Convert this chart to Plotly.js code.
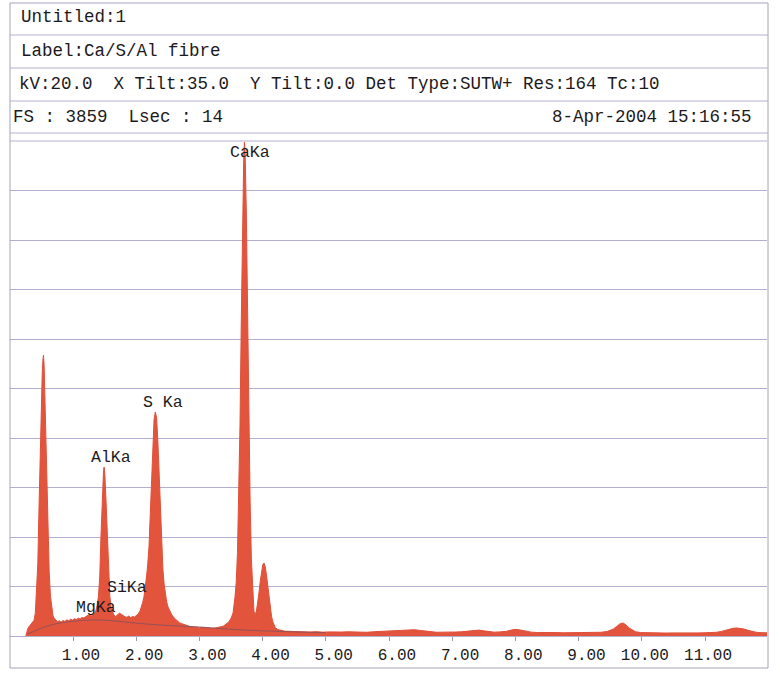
<!DOCTYPE html>
<html>
<head>
<meta charset="utf-8">
<script src="https://cdn.plot.ly/plotly-3.0.1.min.js"></script>
<style>
  html, body { margin: 0; padding: 0; background: #ffffff; }
  #chart { width: 780px; height: 675px; }
</style>
</head>
<body>
<div id="chart"></div>
<script>
// ---------------- data ----------------
const headerTexts = [
  "Untitled:1",
  "Label:Ca/S/Al fibre",
  "kV:20.0\u00a0\u00a0X Tilt:35.0\u00a0\u00a0Y Tilt:0.0 Det Type:SUTW+ Res:164 Tc:10",
  "FS : 3859\u00a0\u00a0Lsec : 14"
];
const dateText = "8-Apr-2004 15:16:55";
const fullScale = 3859;

const tickValues = [1, 2, 3, 4, 5, 6, 7, 8, 9, 10, 11];
const tickLabels = ["1.00", "2.00", "3.00", "4.00", "5.00", "6.00", "7.00", "8.00", "9.00", "10.00", "11.00"];

const peakLabels = ["CaKa", "S Ka", "AlKa", "SiKa", "MgKa"];
const peakEnergy = [3.69, 2.307, 1.486, 1.740, 1.254];

const energyKeV = [
  0.25, 0.26, 0.28, 0.30, 0.32, 0.34, 0.36, 0.38, 0.40, 0.42, 0.44, 0.46, 0.48, 0.50, 0.51, 0.52, 0.53, 0.54, 0.55, 0.56, 0.58, 0.60, 0.62, 0.64, 0.66, 0.68, 0.70, 0.72,
  0.75, 0.78, 0.81, 0.84, 0.87, 0.90, 0.93, 0.96, 0.99, 1.02, 1.05, 1.08, 1.11, 1.14, 1.17, 1.20, 1.23, 1.26, 1.29, 1.32, 1.34,
  1.36, 1.38, 1.40, 1.42, 1.44, 1.46, 1.48, 1.49, 1.50, 1.52, 1.54, 1.56, 1.58, 1.60, 1.62, 1.64,
  1.67, 1.70, 1.73, 1.76, 1.79, 1.82, 1.85, 1.88, 1.91, 1.94, 1.97, 2.00, 2.03, 2.06, 2.08, 2.10, 2.12,
  2.14, 2.16, 2.18, 2.20, 2.22, 2.24, 2.26, 2.28, 2.30, 2.32, 2.34, 2.36, 2.38, 2.40, 2.42, 2.44, 2.46, 2.48, 2.50, 2.53, 2.56, 2.60, 2.64,
  2.68, 2.72, 2.76, 2.80, 2.85, 2.90, 2.95, 3.00, 3.05, 3.10, 3.15, 3.20, 3.25, 3.30, 3.34, 3.38, 3.42, 3.46, 3.50, 3.53,
  3.56, 3.58, 3.60, 3.62, 3.64, 3.66, 3.68, 3.70, 3.71, 3.72, 3.74, 3.76, 3.78, 3.80, 3.82, 3.84, 3.86, 3.87,
  3.88, 3.90, 3.92, 3.94, 3.96, 3.98, 4.00, 4.02, 4.04, 4.06, 4.08, 4.10, 4.12, 4.14, 4.16, 4.18, 4.20, 4.24, 4.28,
  4.35, 4.45, 4.55, 4.65, 4.75, 4.85, 4.95, 5.05, 5.15, 5.25,
  5.35, 5.45, 5.55, 5.65, 5.75, 5.85, 5.95, 6.05, 6.15, 6.25,
  6.32, 6.40, 6.48, 6.56, 6.65, 6.75, 6.85, 6.95, 7.05, 7.15,
  7.25, 7.35, 7.42, 7.50, 7.58, 7.66, 7.75, 7.85, 7.93, 8.00,
  8.06, 8.14, 8.25, 8.35, 8.45, 8.55, 8.65, 8.75, 8.85, 8.95,
  9.05, 9.15, 9.25, 9.35, 9.45, 9.50, 9.55, 9.60, 9.65, 9.70,
  9.75, 9.80, 9.85, 9.90, 9.98, 10.08, 10.18, 10.28, 10.38, 10.48,
  10.58, 10.68, 10.78, 10.88, 10.98, 11.08, 11.18, 11.26, 11.32, 11.38,
  11.44, 11.50, 11.56, 11.62, 11.68, 11.75, 11.82, 11.90, 11.98
];
const counts = [
  0, 30, 55, 72, 84, 92, 104, 122, 175, 330, 560, 1020, 1500, 1880, 2050, 2150, 2190, 2110, 1920, 1700, 1200, 800, 500, 310, 210, 160, 138, 124,
  112, 118, 108, 121, 114, 126, 119, 131, 124, 135, 128, 139, 133, 145, 140, 152, 160, 168, 158, 170, 178,
  200, 240, 310, 460, 780, 1100, 1290, 1317, 1270, 1050, 760, 480, 310, 225, 185, 168,
  150, 162, 178, 170, 158, 150, 146, 155, 143, 152, 148, 160, 172, 198, 225, 262, 305,
  370, 460, 560, 700, 950, 1250, 1520, 1690, 1746, 1700, 1520, 1250, 950, 700, 520, 400, 320, 265, 228, 190, 165, 140, 120,
  104, 96, 88, 82, 74, 70, 66, 63, 66, 60, 62, 58, 63, 66, 72, 78, 90, 108, 140, 180,
  300, 420, 650, 1050, 1650, 2450, 3250, 3760, 3850, 3780, 3300, 2500, 1700, 1050, 600, 330, 200, 172,
  168, 195, 255, 335, 425, 505, 555, 569, 540, 470, 380, 290, 210, 150, 110, 82, 64, 50, 44,
  38, 36, 33, 35, 31, 34, 30, 32, 29, 31,
  33, 30, 32, 29, 33, 36, 40, 42, 46, 48,
  50, 49, 44, 38, 32, 29, 30, 28, 31, 33,
  38, 44, 46, 40, 33, 30, 32, 36, 46, 52,
  48, 38, 30, 27, 28, 26, 27, 25, 26, 24,
  25, 24, 26, 29, 35, 42, 55, 74, 94, 102,
  86, 62, 44, 33, 27, 25, 24, 25, 23, 24,
  23, 24, 23, 24, 25, 26, 29, 36, 45, 54,
  60, 63, 60, 54, 44, 34, 28, 26, 25
];

// fitted background (thin dark curve)
const bgEnergy = [0.28, 0.40, 0.50, 0.70, 1.00, 1.30, 1.60, 2.00, 2.50, 3.00, 3.50, 4.00, 4.50, 5.00];
const bgCounts = [16, 40, 62, 92, 115, 125, 120, 100, 82, 70, 52, 40, 32, 26];

// ---------------- layout helpers ----------------
const W = 780, H = 675;
const PL = 10, PR = 767, PT = 141, PB = 636;
const px2x = x => (x - PL) / (PR - PL);
const px2y = y => (PB - y) / (PB - PT);

const FONT = "'Courier New', 'Liberation Mono', monospace";
const textColor = "#1c1a1c";
const gridColor = "#b3afd0";
const frameColor = "#a6a2b6";

const shapes = [];
// outer frame
shapes.push({type: "rect", xref: "paper", yref: "paper",
  x0: px2x(10), x1: px2x(768), y0: px2y(668), y1: px2y(3),
  line: {color: frameColor, width: 1}});
// header separators
[35, 68, 101, 133].forEach(y => shapes.push({type: "line", xref: "paper", yref: "paper",
  x0: px2x(10), x1: px2x(768), y0: px2y(y), y1: px2y(y),
  line: {color: gridColor, width: 1}}));
// top grid line of the plot area
shapes.push({type: "line", xref: "paper", yref: "paper",
  x0: 0, x1: 1, y0: 1, y1: 1, line: {color: gridColor, width: 1}});

const annotations = [];
const headerY = [17, 51, 84, 117];
const headerX = [20, 20, 18, 12];
headerTexts.forEach((t, i) => annotations.push({
  text: t, xref: "paper", yref: "paper", x: px2x(headerX[i]), y: px2y(headerY[i]),
  xanchor: "left", yanchor: "middle", showarrow: false, borderpad: 0,
  font: {family: FONT, size: 17.5, color: textColor}
}));
annotations.push({
  text: dateText, xref: "paper", yref: "paper", x: px2x(753), y: px2y(117),
  xanchor: "right", yanchor: "middle", showarrow: false, borderpad: 0,
  font: {family: FONT, size: 17.5, color: textColor}
});
// peak labels (label heights in counts, placed above / beside the lines)
const peakLabelY = [3773, 1824, 1395, 382, 226];
peakLabels.forEach((t, i) => annotations.push({
  text: t, x: peakEnergy[i], y: peakLabelY[i], xref: "x", yref: "y",
  xanchor: "center", yanchor: "middle", xshift: 7, showarrow: false, borderpad: 0,
  font: {family: FONT, size: 16.5, color: textColor}
}));

const traces = [
  {
    type: "scatter", mode: "lines", x: energyKeV, y: counts,
    fill: "tozeroy", fillcolor: "#e2553c",
    line: {color: "#e0503a", width: 1}, hoverinfo: "skip", showlegend: false
  },
  {
    type: "scatter", mode: "lines", x: bgEnergy, y: bgCounts,
    line: {color: "#94505a", width: 1, shape: "spline"}, hoverinfo: "skip", showlegend: false
  }
];

const layout = {
  width: W, height: H,
  margin: {l: PL, r: W - PR, t: PT, b: H - PB, pad: 0},
  paper_bgcolor: "#ffffff", plot_bgcolor: "#ffffff",
  showlegend: false,
  xaxis: {
    range: [0, 11.98], showgrid: false, zeroline: false,
    showline: true, linecolor: gridColor, linewidth: 1,
    ticks: "outside", ticklen: 4, tickcolor: "#9c94b4", tickwidth: 1,
    tickmode: "array", tickvals: tickValues, ticktext: tickLabels,
    ticklabelposition: "outside left", ticklabelshift: 28, ticklabelstandoff: 4,
    tickfont: {family: FONT, size: 16, color: textColor},
    fixedrange: true
  },
  yaxis: {
    range: [0, fullScale], showgrid: true, gridcolor: gridColor, gridwidth: 1,
    tick0: 0, dtick: fullScale / 10, zeroline: false, showline: false,
    showticklabels: false, ticks: "", fixedrange: true
  },
  shapes: shapes,
  annotations: annotations
};

Plotly.newPlot("chart", traces, layout, {staticPlot: true, displayModeBar: false});
</script>
</body>
</html>
